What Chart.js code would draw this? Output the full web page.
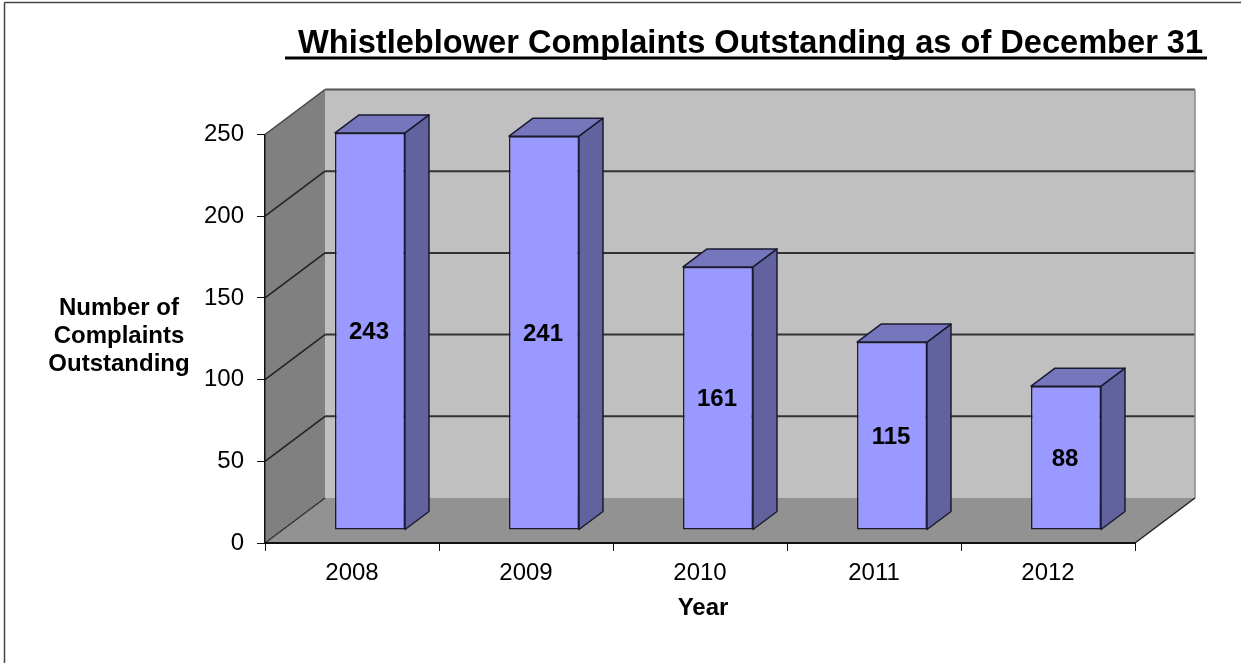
<!DOCTYPE html>
<html>
<head>
<meta charset="utf-8">
<title>Whistleblower Complaints</title>
<script src="https://cdn.jsdelivr.net/npm/chart.js@4/dist/chart.umd.min.js"></script>
<style>
    html, body { margin: 0; padding: 0; background: #fff; overflow: hidden; }
    canvas { display: block; }
</style>
</head>
<body>
<canvas id="complaintsChart" width="1241" height="663"></canvas>
<script>
const years = ['2008', '2009', '2010', '2011', '2012'];
const complaints = [243, 241, 161, 115, 88];
const yTicks = [0, 50, 100, 150, 200, 250];
const yTitleLines = ['Number of', 'Complaints', 'Outstanding'];

const chartTitle = 'Whistleblower Complaints Outstanding as of December 31';
const fontFamily = '"Liberation Sans", Arial, sans-serif';

// depth of the box behind the front plane, and of the bars standing in it
const wallDepth = { x: 60, y: -45 };
const barShift = { x: 18, y: -13 };
const barDepth = { x: 24, y: -18 };

function poly(ctx, pts, fill, stroke, lineWidth) {
    ctx.beginPath();
    pts.forEach((p, i) => i ? ctx.lineTo(p[0], p[1]) : ctx.moveTo(p[0], p[1]));
    ctx.closePath();
    if (fill) {
        ctx.fillStyle = fill;
        ctx.fill();
    }
    if (stroke) {
        ctx.strokeStyle = stroke;
        ctx.lineWidth = lineWidth || 1;
        ctx.stroke();
    }
}

function line(ctx, x1, y1, x2, y2, color, width) {
    ctx.beginPath();
    ctx.moveTo(x1, y1);
    ctx.lineTo(x2, y2);
    ctx.strokeStyle = color;
    ctx.lineWidth = width;
    ctx.stroke();
}

// Frame, walls, floor and the gridlines running round the box
const boxPlugin = {
    id: 'box',
    beforeDraw(chart) {
        const ctx = chart.ctx;
        const xs = chart.scales.x;
        const ys = chart.scales.y;
        const l = xs.left, r = xs.right, t = ys.getPixelForValue(250), b = ys.getPixelForValue(0);
        const dx = wallDepth.x, dy = wallDepth.y;

        ctx.save();
        line(ctx, 4.5, 2.5, 1241, 2.5, '#444', 1.5);
        line(ctx, 4.5, 2.5, 4.5, 663, '#444', 1.5);

        poly(ctx, [[l + dx, t + dy], [r + dx, t + dy], [r + dx, b + dy], [l + dx, b + dy]], '#c0c0c0');
        poly(ctx, [[l, t], [l + dx, t + dy], [l + dx, b + dy], [l, b]], '#808080');
        poly(ctx, [[l, b], [l + dx, b + dy], [r + dx, b + dy], [r, b]], '#929292');

        yTicks.slice(1, -1).forEach(v => {
            const y = ys.getPixelForValue(v);
            line(ctx, l, y, l + dx, y + dy, '#222', 1.5);
            line(ctx, l + dx, y + dy, r + dx, y + dy, '#333', 2);
        });

        line(ctx, l + dx, t + dy, r + dx, t + dy, '#555', 2);
        line(ctx, r + dx, t + dy, r + dx, b + dy, '#8a8a8a', 1.5);
        line(ctx, l, t, l + dx, t + dy, '#444', 1.5);
        line(ctx, l, b, l + dx, b + dy, '#333', 1.5);
        line(ctx, r, b, r + dx, b + dy, '#222', 1.5);
        ctx.restore();
    },

    // bars stand partway into the box, so the front faces get shifted back
    beforeDatasetsDraw(chart) {
        const ctx = chart.ctx;
        const dx = barDepth.x, dy = barDepth.y;
        ctx.save();
        ctx.translate(barShift.x, barShift.y);
        ctx.lineJoin = 'round';
        chart.getDatasetMeta(0).data.forEach(bar => {
            const left = bar.x - bar.width / 2;
            const right = bar.x + bar.width / 2;
            poly(ctx, [[right, bar.y], [right + dx, bar.y + dy], [right + dx, bar.base + dy], [right, bar.base]], '#62629f', '#1a1a30', 1.5);
            poly(ctx, [[left, bar.y], [left + dx, bar.y + dy], [right + dx, bar.y + dy], [right, bar.y]], '#7676bd', '#1a1a30', 1.5);
        });
    },

    afterDatasetsDraw(chart) {
        const ctx = chart.ctx;
        ctx.fillStyle = '#000';
        ctx.font = 'bold 24px ' + fontFamily;
        ctx.textAlign = 'center';
        ctx.textBaseline = 'middle';
        chart.getDatasetMeta(0).data.forEach((bar, i) => {
            ctx.fillText(complaints[i], bar.x - 1, (bar.y + bar.base) / 2 + 1.5);
        });
        ctx.restore();
    },

    afterDraw(chart) {
        const ctx = chart.ctx;
        ctx.save();
        ctx.fillStyle = '#000';

        // underlined title with a leading blank
        ctx.font = 'bold 32.6px ' + fontFamily;
        ctx.textAlign = 'left';
        ctx.textBaseline = 'alphabetic';
        ctx.fillText(chartTitle, 298, 53);
        line(ctx, 285, 58, 1207, 58, '#000', 3);

        // axis titles
        ctx.font = 'bold 24px ' + fontFamily;
        ctx.textAlign = 'center';
        ctx.textBaseline = 'middle';
        yTitleLines.forEach((text, i) => ctx.fillText(text, 119, 308 + i * 28));
        ctx.fillText('Year', 703, 608);
        ctx.restore();
    }
};

new Chart(document.getElementById('complaintsChart').getContext('2d'), {
    type: 'bar',
    data: {
        labels: years,
        datasets: [{
            data: complaints,
            backgroundColor: '#9999ff',
            borderColor: '#1a1a30',
            borderWidth: 1.5,
            borderSkipped: false,
            categoryPercentage: 1,
            barPercentage: 0.402,
            clip: false
        }]
    },
    options: {
        responsive: false,
        animation: false,
        layout: { padding: { top: 134.5, right: 106, left: 0, bottom: 0 } },
        plugins: { legend: { display: false }, title: { display: false }, tooltip: { enabled: false } },
        scales: {
            x: {
                afterFit(scale) { scale.height = 120; },
                offset: true,
                border: { color: '#111', width: 2 },
                grid: { offset: true, drawOnChartArea: false, color: '#111', tickLength: 8, lineWidth: 1 },
                ticks: { color: '#000', font: { family: fontFamily, size: 24 }, padding: 8, maxRotation: 0 }
            },
            y: {
                min: 0,
                max: 250,
                afterFit(scale) { scale.width = 265; },
                afterBuildTicks(scale) { scale.ticks = yTicks.map(v => ({ value: v })); },
                border: { color: '#111', width: 1.5 },
                grid: { drawOnChartArea: false, color: '#111', tickLength: 8, lineWidth: 1 },
                ticks: { color: '#000', font: { family: fontFamily, size: 24 }, padding: 13 }
            }
        }
    },
    plugins: [boxPlugin]
});
</script>
</body>
</html>
